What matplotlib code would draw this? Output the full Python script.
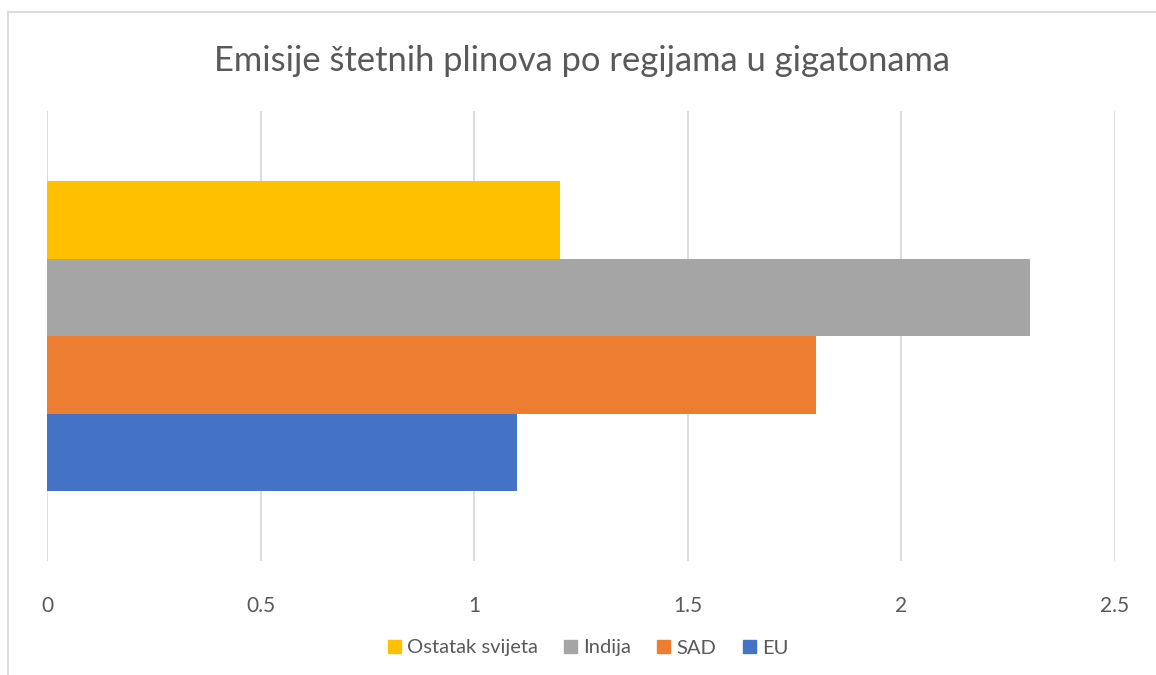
import matplotlib.pyplot as plt
from matplotlib.lines import Line2D
from matplotlib.patches import Patch

plt.rcParams['font.family'] = ['Lato', 'DejaVu Sans']

series = ['EU', 'SAD', 'Indija', 'Ostatak svijeta']
values = [1.1, 1.8, 2.3, 1.2]
colors = ['#4472C4', '#ED7D31', '#A5A5A5', '#FFC000']
xticks = [0, 0.5, 1, 1.5, 2, 2.5]
xticklabels = ['0', '0.5', '1', '1.5', '2', '2.5']

W, H = 1156, 675
fig = plt.figure(figsize=(W / 100, H / 100), dpi=100)
ax = fig.add_axes([47 / W, (H - 561) / H, (1115 - 47) / W, (561 - 111) / H])

h = 77.5 / 450
for i, (name, v, c) in enumerate(zip(series, values, colors)):
    ax.barh((i - 1.5) * h, v, height=h, color=c, label=name, zorder=2)

ax.set_xlim(0, 2.5)
ax.set_ylim(-0.5, 0.5)
ax.set_xticks(xticks)
ax.set_xticklabels(xticklabels)
ax.set_yticks([])
ax.tick_params(axis='x', length=0, pad=25, labelsize=15, labelcolor='#595959')
ax.grid(axis='x', color='#D9D9D9', linewidth=1.3, zorder=0)
for s in ax.spines.values():
    s.set_visible(False)

fig.text(582 / W, 1 - 61 / H, 'Emisije štetnih plinova po regijama u gigatonama',
         ha='center', va='center', fontsize=24.8, color='#595959')

# chart frame (only top and left edges visible in the reference)
fig.add_artist(Line2D([8 / W, 8 / W], [0, 1 - 12 / H], color='#D9D9D9', lw=1.3))
fig.add_artist(Line2D([8 / W, 1], [1 - 12 / H, 1 - 12 / H], color='#D9D9D9', lw=1.3))

handles = [Patch(color=c, label=n) for n, c in zip(series, colors)][::-1]
fig.legend(handles=handles, loc='center', bbox_to_anchor=(588 / W, 1 - 648 / H),
           ncol=4, frameon=False, fontsize=14.5, labelcolor='#595959',
           handlelength=0.65, handleheight=0.65, handletextpad=0.3, columnspacing=1.3)

fig.savefig('out.png', dpi=100, facecolor='white')
